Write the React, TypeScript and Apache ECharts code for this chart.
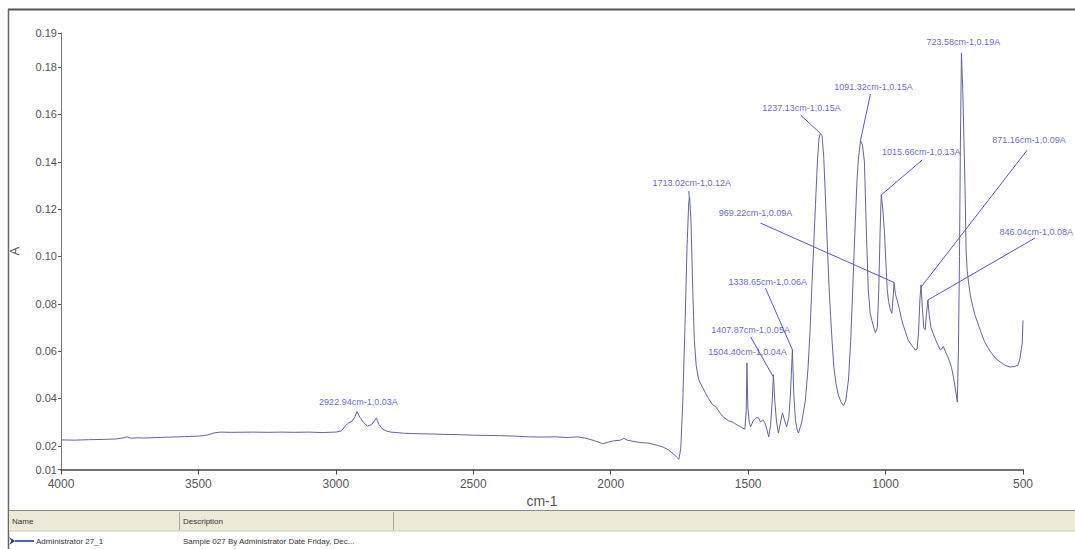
import React, { useEffect, useRef } from "react";
import * as echarts from "echarts";

// Spectrum (wavenumber cm-1, absorbance A)
const waveNumbers = [
  4000, 3950, 3900, 3850, 3800, 3775, 3760, 3745, 3720, 3700, 3650, 3600, 3550, 3500, 3470, 3440, 3420, 3380,
  3300, 3250, 3200, 3150, 3100, 3050, 3000, 2980, 2965, 2955, 2940, 2930, 2923, 2912, 2900, 2885, 2870, 2860,
  2853, 2843, 2830, 2815, 2800, 2750, 2700, 2650, 2600, 2550, 2500, 2450, 2400, 2350, 2300, 2250, 2200, 2160,
  2120, 2090, 2060, 2030, 2010, 1990, 1965, 1952, 1940, 1915, 1890, 1860, 1830, 1810, 1790, 1772, 1760, 1752,
  1745, 1738, 1730, 1722, 1716, 1713, 1708, 1702, 1696, 1689, 1680, 1665, 1647, 1630, 1618, 1600, 1589, 1570,
  1556, 1540, 1527, 1512, 1507, 1504.4, 1501, 1496, 1491, 1482, 1470, 1462, 1455, 1447, 1440, 1432, 1425, 1418,
  1412, 1408, 1403, 1397, 1390, 1382, 1375, 1368, 1360, 1352, 1346, 1339, 1334, 1328, 1322, 1317, 1305, 1292,
  1282, 1275, 1268, 1262, 1255, 1248, 1242, 1237, 1231, 1225, 1218, 1212, 1206, 1200, 1194, 1188, 1180, 1172,
  1162, 1153, 1145, 1135, 1127, 1121, 1115, 1110, 1104, 1099, 1091, 1084, 1077, 1070, 1063, 1056, 1050, 1043,
  1037, 1030, 1025, 1020, 1015.7, 1010, 1004, 999, 994, 989, 984, 977, 973, 969, 964, 958, 950, 943, 936, 927,
  918, 908, 900, 892, 885, 880, 875, 871, 866, 861, 856, 851, 846, 841, 835, 827, 815, 801, 795, 790, 783, 776,
  768, 760, 753, 746, 739, 735, 731, 728, 724, 719, 714, 710, 707, 703, 699, 692, 683, 674, 665, 656, 640, 620,
  600, 583, 565, 547, 530, 518, 511, 506, 503, 500,
];
const absorbance = [
  0.0225, 0.0224, 0.0226, 0.0227, 0.0229, 0.0233, 0.0238, 0.0232, 0.0234, 0.0233, 0.0235, 0.0237, 0.0239, 0.0241, 0.0245, 0.0255, 0.0258, 0.0257,
  0.0258, 0.0257, 0.0258, 0.0257, 0.0258, 0.0256, 0.0258, 0.0263, 0.0285, 0.0296, 0.0305, 0.0325, 0.0345, 0.032, 0.03, 0.0283, 0.029, 0.0305,
  0.0318, 0.029, 0.027, 0.0262, 0.0258, 0.0253, 0.0251, 0.025, 0.0248, 0.0247, 0.0245, 0.0244, 0.0243, 0.0241, 0.0238, 0.0237, 0.0238, 0.0235,
  0.0238, 0.0232, 0.0222, 0.0209, 0.0215, 0.0221, 0.0224, 0.0232, 0.0224, 0.0218, 0.0214, 0.0211, 0.0202, 0.0195, 0.0183, 0.0166, 0.0152, 0.0143,
  0.019, 0.038, 0.07, 0.105, 0.123, 0.125, 0.115, 0.088, 0.065, 0.054, 0.048, 0.0445, 0.0405, 0.0375, 0.0365, 0.0335, 0.032, 0.0305,
  0.03, 0.0288, 0.028, 0.027, 0.035, 0.055, 0.036, 0.03, 0.028, 0.0305, 0.032, 0.0318, 0.03, 0.031, 0.03, 0.027, 0.0237, 0.029,
  0.04, 0.05, 0.039, 0.0305, 0.0254, 0.03, 0.0339, 0.031, 0.028, 0.032, 0.042, 0.0605, 0.042, 0.031, 0.027, 0.0254, 0.03, 0.039,
  0.053, 0.068, 0.088, 0.103, 0.122, 0.14, 0.15, 0.152, 0.151, 0.142, 0.123, 0.105, 0.088, 0.075, 0.063, 0.053, 0.046, 0.0415,
  0.0385, 0.037, 0.039, 0.0478, 0.064, 0.0816, 0.1, 0.115, 0.132, 0.141, 0.149, 0.147, 0.14, 0.111, 0.086, 0.076, 0.073, 0.07,
  0.0677, 0.07, 0.085, 0.11, 0.126, 0.12, 0.11, 0.098, 0.086, 0.081, 0.078, 0.076, 0.082, 0.089, 0.084, 0.0816, 0.078, 0.074, 0.071, 0.068,
  0.0647, 0.063, 0.0617, 0.0605, 0.061, 0.068, 0.082, 0.088, 0.078, 0.07, 0.069, 0.076, 0.0816, 0.075, 0.07, 0.0675, 0.064, 0.0605, 0.061, 0.062, 0.06, 0.0583,
  0.056, 0.053, 0.049, 0.044, 0.0385, 0.06, 0.1, 0.145, 0.186, 0.17, 0.145, 0.124, 0.102, 0.094, 0.09, 0.0837, 0.079, 0.075, 0.072, 0.069, 0.064, 0.06,
  0.057, 0.0554, 0.054, 0.0533, 0.0535, 0.0541, 0.057, 0.061, 0.063, 0.073,
];

// Axis ticks
const xMin = 500;
const xMax = 4000;
const xStep = 500;
const yTickValues = [0.01, 0.02, 0.04, 0.06, 0.08, 0.1, 0.12, 0.14, 0.16, 0.18, 0.1944];

// Peak annotations: text and where the text sits (data coordinates)
const peakLabels = [
  "2922.94cm-1,0.03A",
  "1713.02cm-1,0.12A",
  "1237.13cm-1,0.15A",
  "1091.32cm-1,0.15A",
  "1015.66cm-1,0.13A",
  "871.16cm-1,0.09A",
  "846.04cm-1,0.08A",
  "969.22cm-1,0.09A",
  "723.58cm-1,0.19A",
  "1338.65cm-1,0.06A",
  "1407.87cm-1,0.05A",
  "1504.40cm-1,0.04A",
];
const labelWn = [2918, 1705, 1306, 1044, 870, 478, 452, 1473, 717, 1429, 1491, 1502];
const labelA = [0.0385, 0.131, 0.1627, 0.1715, 0.1441, 0.1491, 0.1103, 0.1183, 0.1905, 0.0892, 0.0689, 0.0596];

// Leader lines from label to peak
const leaderFromWn = [1716, 1309, 1055, 867, 485, 456, 1455, 1437, 1491];
const leaderFromA = [0.1276, 0.1597, 0.1686, 0.1407, 0.1449, 0.1078, 0.1141, 0.0866, 0.066];
const leaderToWn = [1713.02, 1237.13, 1091.32, 1015.66, 871.16, 846.04, 969.22, 1338.65, 1407.87];
const leaderToA = [0.1235, 0.152, 0.149, 0.126, 0.087, 0.0816, 0.089, 0.0605, 0.049];

// Legend table
const tableHeaders = ["Name", "Description"];
const tableRow = ["Administrator 27_1", "Sample 027 By Administrator Date Friday, Dec..."];

const narrow = "'Liberation Sans Narrow', 'Arial Narrow', 'Liberation Sans', Arial, sans-serif";

export default function App() {
  const ref = useRef<HTMLDivElement>(null);

  useEffect(() => {
    if (!ref.current) return;
    const chart = echarts.init(ref.current, null, { renderer: "svg" });

    const spectrum = waveNumbers.map((w, i) => [w, absorbance[i]]);
    const labelPts = labelWn.map((w, i) => [w, labelA[i]]);
    const leaders = leaderFromWn.map((w, i) => ({
      coords: [
        [w, leaderFromA[i]],
        [leaderToWn[i], leaderToA[i]],
      ],
    }));

    const headerColor = "#333";
    const tableFont = "8px 'Liberation Sans', Arial, sans-serif";

    chart.setOption({
      animation: false,
      backgroundColor: "#ffffff",
      grid: { left: 59, right: 52, top: 33, bottom: 79.5, containLabel: false },
      xAxis: {
        type: "value",
        inverse: true,
        min: xMin,
        max: xMax,
        interval: xStep,
        name: "cm-1",
        nameLocation: "middle",
        nameGap: 20,
        nameTextStyle: { color: "#555", fontSize: 14, fontFamily: narrow },
        axisLine: { show: true, onZero: false, lineStyle: { color: "#444", width: 1.5 } },
        axisTick: { show: true, length: 5, lineStyle: { color: "#444" } },
        axisLabel: {
          color: "#555",
          fontSize: 12,
          fontFamily: narrow,
          margin: 8,
          formatter: (v: number) => String(v),
        },
        splitLine: { show: false },
      },
      yAxis: {
        type: "value",
        min: yTickValues[0],
        max: yTickValues[yTickValues.length - 1],
        name: "A",
        nameLocation: "middle",
        nameGap: 40,
        nameTextStyle: { color: "#555", fontSize: 13, fontFamily: narrow },
        axisLine: { show: true, lineStyle: { color: "#777", width: 1 } },
        axisTick: { show: true, length: 3, customValues: yTickValues, lineStyle: { color: "#555" } },
        axisLabel: {
          customValues: yTickValues,
          formatter: (v: number) => v.toFixed(2),
          color: "#555",
          fontSize: 11,
          fontFamily: narrow,
          margin: 4,
        },
        splitLine: { show: false },
      },
      series: [
        {
          type: "line",
          data: spectrum,
          showSymbol: false,
          symbol: "none",
          lineStyle: { color: "#6464a0", width: 1 },
          silent: true,
          clip: false,
        },
        {
          type: "lines",
          coordinateSystem: "cartesian2d",
          data: leaders,
          lineStyle: { color: "#5656cc", width: 1, opacity: 1 },
          silent: true,
          clip: false,
          z: 3,
        },
        {
          type: "scatter",
          data: labelPts,
          symbolSize: 0,
          clip: false,
          silent: true,
          z: 4,
          label: {
            show: true,
            position: "inside",
            formatter: (p: any) => peakLabels[p.dataIndex],
            color: "#3c3cd4",
            fontSize: 9,
            fontFamily: "'Liberation Sans', Arial, sans-serif",
          },
        },
      ],
      graphic: [
        { type: "line", shape: { x1: 8, y1: 9.5, x2: 1075, y2: 9.5 }, style: { stroke: "#555", lineWidth: 2 } },
        { type: "line", shape: { x1: 8.5, y1: 9, x2: 8.5, y2: 549 }, style: { stroke: "#666", lineWidth: 1.5 } },
        { type: "rect", shape: { x: 9, y: 510, width: 1066, height: 21 }, style: { fill: "#ece9d8" } },
        { type: "line", shape: { x1: 9, y1: 510.5, x2: 1075, y2: 510.5 }, style: { stroke: "#8c8c8c", lineWidth: 1 } },
        { type: "line", shape: { x1: 9, y1: 531, x2: 1075, y2: 531 }, style: { stroke: "#cbc7b8", lineWidth: 1 } },
        { type: "line", shape: { x1: 179.5, y1: 512, x2: 179.5, y2: 530 }, style: { stroke: "#aca899", lineWidth: 1 } },
        { type: "line", shape: { x1: 393.5, y1: 512, x2: 393.5, y2: 530 }, style: { stroke: "#aca899", lineWidth: 1 } },
        { type: "text", x: 12, y: 521, style: { text: tableHeaders[0], fill: headerColor, font: tableFont, verticalAlign: "middle" } },
        { type: "text", x: 183, y: 521, style: { text: tableHeaders[1], fill: headerColor, font: tableFont, verticalAlign: "middle" } },
        {
          type: "polygon",
          shape: { points: [[9, 537], [15, 541], [9, 545], [11.5, 541]] },
          style: { fill: "#1f2f8f" },
        },
        { type: "line", shape: { x1: 15, y1: 541, x2: 34, y2: 541 }, style: { stroke: "#1f2f8f", lineWidth: 1.5 } },
        { type: "text", x: 36, y: 541, style: { text: tableRow[0], fill: headerColor, font: tableFont, verticalAlign: "middle" } },
        { type: "text", x: 183, y: 541, style: { text: tableRow[1], fill: headerColor, font: tableFont, verticalAlign: "middle" } },
      ],
    });

    return () => chart.dispose();
  }, []);

  return (
    <div
      ref={ref}
      style={{ position: "fixed", left: 0, top: 0, width: 1075, height: 549, background: "#fff" }}
    />
  );
}
